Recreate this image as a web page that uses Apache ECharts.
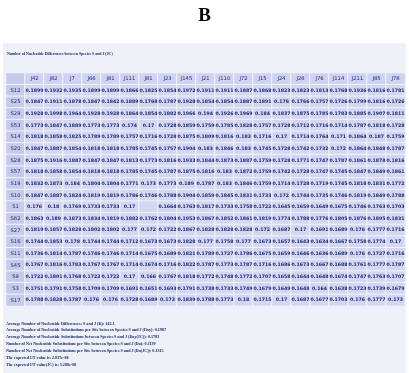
<!DOCTYPE html>
<html><head><meta charset="utf-8">
<script src="https://cdn.jsdelivr.net/npm/echarts@6/dist/echarts.min.js"></script>
<style>html,body{margin:0;padding:0;background:#fff}#c{width:409px;height:373px}</style>
</head><body><div id="c"></div>
<script>
const columns = ['J42','J82','J7','J66','J81','J111','J81','J23','J145','J21','J110','J72','J15','J24','J26','J76','J114','J211','J85','J78'];
const rows = ['S12','S25','S29','S53','S14','S20','S28','S57','S19','S10','S1','S62','S27','S16','S11','S45','S9','S3','S17'];
const S12 = [0.1899,0.1932,0.1935,0.1899,0.1899,0.1866,0.1825,0.1854,0.1972,0.1911,0.1911,0.1887,0.1868,0.1823,0.1823,0.1813,0.1768,0.1936,0.1816,0.1781];
const S25 = [0.1847,0.1911,0.1878,0.1847,0.1842,0.1889,0.1768,0.1787,0.1928,0.1854,0.1854,0.1887,0.1891,0.178,0.1766,0.1757,0.1726,0.1799,0.1816,0.1726];
const S29 = [0.1928,0.1998,0.1964,0.1928,0.1928,0.1864,0.1854,0.1882,0.1966,0.194,0.1926,0.1969,0.184,0.1837,0.1875,0.1785,0.1783,0.1885,0.1907,0.1811];
const S53 = [0.1773,0.1847,0.1889,0.1773,0.1773,0.174,0.17,0.1728,0.1859,0.1759,0.1785,0.1828,0.1757,0.1728,0.1712,0.1716,0.1714,0.1787,0.1818,0.1728];
const S14 = [0.1818,0.1858,0.1825,0.1789,0.1789,0.1757,0.1716,0.1728,0.1875,0.1809,0.1816,0.183,0.1716,0.17,0.1714,0.1764,0.171,0.1864,0.187,0.1759];
const S20 = [0.1847,0.1887,0.1854,0.1818,0.1818,0.1785,0.1745,0.1757,0.1904,0.183,0.1846,0.183,0.1745,0.1728,0.1742,0.1732,0.172,0.1864,0.1848,0.1787];
const S28 = [0.1875,0.1916,0.1887,0.1847,0.1847,0.1813,0.1773,0.1816,0.1933,0.1844,0.1873,0.1887,0.1759,0.1728,0.1771,0.1747,0.1787,0.1861,0.1878,0.1816];
const S57 = [0.1818,0.1858,0.1854,0.1818,0.1818,0.1785,0.1745,0.1787,0.1875,0.1816,0.183,0.1872,0.1759,0.1742,0.1728,0.1747,0.1745,0.1847,0.1849,0.1861];
const S19 = [0.1832,0.1873,0.184,0.1804,0.1804,0.1771,0.173,0.1773,0.189,0.1787,0.183,0.1846,0.1759,0.1714,0.1728,0.1719,0.1745,0.1818,0.1831,0.1772];
const S10 = [0.1847,0.1887,0.1824,0.1819,0.1819,0.1786,0.1746,0.1788,0.1904,0.1859,0.1845,0.1831,0.1733,0.172,0.1744,0.1735,0.1746,0.1819,0.1849,0.1788];
const S1  = [0.176,0.18,0.1769,0.1733,0.1733,0.17,null,0.1664,0.1763,0.1817,0.1733,0.1758,0.1722,0.1645,0.1659,0.1649,0.1675,0.1746,0.1763,0.1703];
const S62 = [0.1863,0.189,0.1873,0.1834,0.1819,0.1882,0.1762,0.1804,0.1953,0.1867,0.1852,0.1861,0.1819,0.1774,0.1788,0.1776,0.1805,0.1876,0.1895,0.1831];
const S27 = [0.1819,0.1857,0.1828,0.1802,0.1802,0.177,0.172,0.1722,0.1867,0.1828,0.1828,0.1828,0.172,0.1687,0.17,0.1691,0.1689,0.176,0.1777,0.1716];
const S16 = [0.1744,0.1853,0.178,0.1744,0.1744,0.1712,0.1673,0.1673,0.1828,0.177,0.1758,0.177,0.1673,0.1657,0.1643,0.1634,0.1667,0.1758,0.1774,0.17];
const S11 = [0.1736,0.1814,0.1787,0.1746,0.1746,0.1714,0.1675,0.1689,0.1821,0.1789,0.1727,0.1786,0.1675,0.1659,0.1646,0.1636,0.1689,0.176,0.1727,0.1716];
const S45 = [0.1767,0.1816,0.1783,0.1767,0.1767,0.1714,0.1674,0.1716,0.1822,0.1787,0.1773,0.1787,0.1716,0.1686,0.1673,0.1667,0.1688,0.1761,0.1777,0.1787];
const S9  = [0.1722,0.1801,0.1768,0.1722,0.1722,0.17,0.166,0.1767,0.1818,0.1772,0.1748,0.1772,0.1707,0.1658,0.1644,0.1648,0.1674,0.1747,0.1763,0.1707];
const S3  = [0.1751,0.1791,0.1758,0.1709,0.1709,0.1691,0.1651,0.1693,0.1791,0.1738,0.1733,0.1749,0.1679,0.1649,0.1648,0.164,0.1638,0.1723,0.1739,0.1679];
const S17 = [0.1788,0.1828,0.1787,0.176,0.176,0.1728,0.1689,0.173,0.1839,0.1788,0.1773,0.18,0.1715,0.17,0.1687,0.1677,0.1703,0.176,0.1777,0.173];
const table = [S12,S25,S29,S53,S14,S20,S28,S57,S19,S10,S1,S62,S27,S16,S11,S45,S9,S3,S17];
const heading = 'Number of Nucleotide Differences between Species S and J (JC)';
const notes = [
 'Average Number of Nucleotide Differences: S and J (K): 142.1',
 'Average Number of Nucleotide Substitutions per Site between Species S and J (Dxy): 0.1987',
 'Average Number of Nucleotide Substitutions between Species S and J (Dxy(JC)): 0.1783',
 'Number of Net Nucleotide Substitutions per Site between Species S and J (Da): 0.1139',
 'Number of Net Nucleotide Substitutions per Site between Species S and J (Da(JC)): 0.1315',
 'The expected I/T value is: 2.837e-08',
 'The expected I/T value(JC) is: 3.288e-08'
];

const xCats = [''].concat(columns);
const yCats = [''].concat(rows);
const data = [];
data.push({value:[0,0,0,''], itemStyle:{color:'#c6cbec'}});
columns.forEach((c,i)=>data.push({value:[i+1,0,0,c], itemStyle:{color:'#cfd3f0'}, label:{fontWeight:'normal', fontSize:5.2}}));
rows.forEach((r,j)=>{
  data.push({value:[0,j+1,0,r], itemStyle:{color:'#c6cbec'}, label:{fontWeight:'normal', fontSize:5.2}});
  table[j].forEach((v,i)=>data.push({value:[i+1,j+1,v==null?0:v, v==null?'':String(v)], itemStyle:{color:'#d4d7f2'}}));
});

const chart = echarts.init(document.getElementById('c'), null, {renderer:'canvas'});
chart.setOption({
  backgroundColor:'#ffffff',
  animation:false,
  title:{text:'B', left:'center', top:2, textStyle:{fontFamily:'Liberation Serif', fontWeight:'bold', fontSize:19, color:'#000'}},
  graphic:[
    {type:'rect', shape:{x:3,y:43,width:403,height:330}, style:{fill:'#eef1f8'}, z:-10},
    {type:'text', left:7, top:52, style:{text:heading, font:'bold 3.9px "Liberation Serif"', fill:'#1a2568'}},
    {type:'text', left:6, top:320, style:{text:notes.join('\n'), font:'bold 4.1px "Liberation Serif"', lineHeight:6.9, fill:'#1a2568'}}
  ],
  grid:{left:6, right:4, top:73, bottom:67},
  xAxis:{type:'category', data:xCats, show:false},
  yAxis:{type:'category', data:yCats, inverse:true, show:false},
  series:[{
    type:'heatmap',
    data:data,
    itemStyle:{borderColor:'#f2f3fb', borderWidth:1},
    label:{show:true, formatter:p=>p.value[3], fontSize:4.7, fontWeight:'bold', fontFamily:'DejaVu Sans', color:'#1c2a72'}
  }]
});
</script></body></html>
